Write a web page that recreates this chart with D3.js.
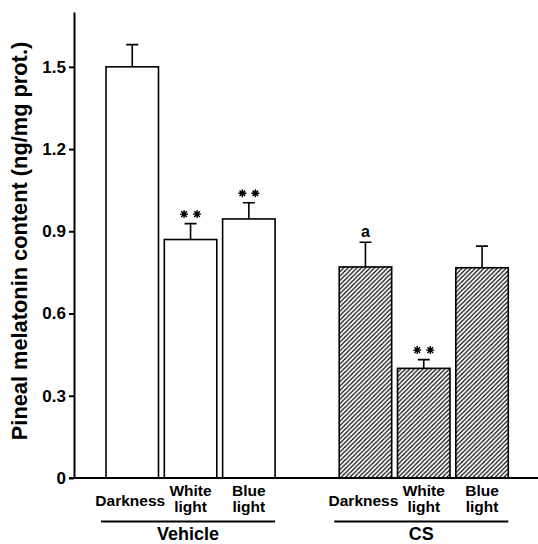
<!DOCTYPE html>
<html>
<head>
<meta charset="utf-8">
<script src="https://cdn.jsdelivr.net/npm/d3@7"></script>
<style>
  body { margin: 0; background: #fff; }
  text { font-family: "Liberation Sans", Arial, sans-serif; font-weight: bold; fill: #000; }
</style>
</head>
<body>
<div id="chart"></div>
<script>
// data
const groups = ['Vehicle', 'CS'];
const conditions = ['Darkness', 'White light', 'Blue light'];
const vehicleMeans = [1.50, 0.87, 0.945];
const vehicleErrors = [0.081, 0.058, 0.059];
const csMeans = [0.77, 0.40, 0.767];
const csErrors = [0.09, 0.032, 0.079];
const vehicleMarks = ['', '**', '**'];
const csMarks = ['a', '**', ''];
const yTicks = [0, 0.3, 0.6, 0.9, 1.2, 1.5];

const width = 538, height = 544;
const axisX = 74;

const rows = [];
groups.forEach((g, gi) => {
  const means = gi === 0 ? vehicleMeans : csMeans;
  const errs = gi === 0 ? vehicleErrors : csErrors;
  const marks = gi === 0 ? vehicleMarks : csMarks;
  conditions.forEach((c, ci) => {
    rows.push({ key: g + '-' + c, group: g, cond: c, mean: means[ci], err: errs[ci], mark: marks[ci], hatched: gi === 1 });
  });
});

// one empty slot between the groups
const slots = rows.slice(0, 3).map(d => d.key).concat(['gap'], rows.slice(3).map(d => d.key));

const x = d3.scaleBand()
  .domain(slots)
  .range([103.1, 511.2])
  .paddingInner(0.1)
  .paddingOuter(0.05);

const y = d3.scaleLinear()
  .domain([0, 1.7])
  .range([478, 12]);

const svg = d3.select('#chart')
  .append('svg')
  .attr('width', width)
  .attr('height', height);

const defs = svg.append('defs');
defs.append('pattern')
  .attr('id', 'hatch')
  .attr('patternUnits', 'userSpaceOnUse')
  .attr('width', 4.4)
  .attr('height', 4.4)
  .append('path')
  .attr('d', 'M-1.1,1.1 L1.1,-1.1 M0,4.4 L4.4,0 M3.3,5.5 L5.5,3.3')
  .attr('stroke', '#000')
  .attr('stroke-width', 1.1);

// bars
svg.selectAll('.bar')
  .data(rows)
  .enter().append('rect')
  .attr('class', 'bar')
  .attr('x', d => x(d.key))
  .attr('y', d => y(d.mean))
  .attr('width', x.bandwidth())
  .attr('height', d => y(0) - y(d.mean))
  .attr('fill', d => d.hatched ? 'url(#hatch)' : '#fff')
  .attr('stroke', '#000')
  .attr('stroke-width', 1.6);

// error bars (upper only)
const cx = d => x(d.key) + x.bandwidth() / 2;
svg.selectAll('.err')
  .data(rows)
  .enter().append('path')
  .attr('class', 'err')
  .attr('d', d => `M${cx(d)},${y(d.mean)}V${y(d.mean + d.err)}M${cx(d) - 6},${y(d.mean + d.err)}H${cx(d) + 6}`)
  .attr('fill', 'none')
  .attr('stroke', '#000')
  .attr('stroke-width', 1.6);

// significance stars
const star = {
  draw(ctx, size) {
    const r = Math.sqrt(size) / 2;
    for (let i = 0; i < 4; i++) {
      const a = i * Math.PI / 4;
      ctx.moveTo(-r * Math.cos(a), -r * Math.sin(a));
      ctx.lineTo(r * Math.cos(a), r * Math.sin(a));
    }
  }
};
const starPts = rows.filter(d => d.mark === '**').flatMap(d => [{ d, dx: -6.5 }, { d, dx: 6.5 }]);
const stars = svg.selectAll('.star')
  .data(starPts)
  .enter().append('g')
  .attr('class', 'star')
  .attr('transform', s => `translate(${cx(s.d) + s.dx},${y(s.d.mean + s.d.err) - 9.5})`);
stars.append('path')
  .attr('d', d3.symbol().type(star).size(64))
  .attr('stroke', '#000')
  .attr('stroke-width', 1.4);
stars.append('circle')
  .attr('r', 2.3)
  .attr('fill', '#000');

svg.selectAll('.letter')
  .data(rows.filter(d => d.mark === 'a'))
  .enter().append('text')
  .attr('class', 'letter')
  .attr('x', d => cx(d))
  .attr('y', d => y(d.mean + d.err) - 5)
  .attr('text-anchor', 'middle')
  .style('font-size', '16px')
  .text(d => d.mark);

// y axis
const yAxis = svg.append('g')
  .attr('transform', `translate(${axisX},0)`)
  .call(d3.axisLeft(y).tickValues(yTicks).tickSize(5).tickSizeOuter(0).tickPadding(3)
    .tickFormat(d => d === 0 ? '0' : d3.format('.1f')(d)));
yAxis.attr('font-family', null).attr('font-size', null);
yAxis.select('.domain').attr('stroke-width', 2);
yAxis.selectAll('.tick line').attr('stroke-width', 2);
yAxis.selectAll('.tick text').style('font-size', '17px');

// baseline
svg.append('line')
  .attr('x1', axisX - 5).attr('x2', width)
  .attr('y1', y(0)).attr('y2', y(0))
  .attr('stroke', '#000')
  .attr('stroke-width', 2);

// category labels
const labels = svg.selectAll('.cat')
  .data(rows)
  .enter().append('text')
  .attr('class', 'cat')
  .attr('text-anchor', 'middle')
  .style('font-size', '15.5px');
labels.each(function (d) {
  const parts = d.cond.split(' ');
  const t = d3.select(this);
  if (parts.length === 1) {
    t.append('tspan').attr('x', cx(d) - 2).attr('y', 506).text(parts[0]);
  } else {
    t.append('tspan').attr('x', cx(d)).attr('y', 496).text(parts[0]);
    t.append('tspan').attr('x', cx(d)).attr('y', 511.5).text(parts[1]);
  }
});

// group brackets
groups.forEach((g, gi) => {
  const gRows = rows.filter(d => d.group === g);
  const x0 = x(gRows[0].key) - 5;
  const x1 = x(gRows[2].key) + x.bandwidth();
  svg.append('line')
    .attr('x1', x0).attr('x2', x1)
    .attr('y1', 521.5).attr('y2', 521.5)
    .attr('stroke', '#000')
    .attr('stroke-width', 2);
  svg.append('text')
    .attr('x', (x0 + x1) / 2)
    .attr('y', 540)
    .attr('text-anchor', 'middle')
    .style('font-size', '18px')
    .text(g);
});

// y title
svg.append('text')
  .attr('transform', `translate(27,241) rotate(-90)`)
  .attr('text-anchor', 'middle')
  .style('font-size', '21.8px')
  .text('Pineal melatonin content (ng/mg prot.)');
</script>
</body>
</html>
